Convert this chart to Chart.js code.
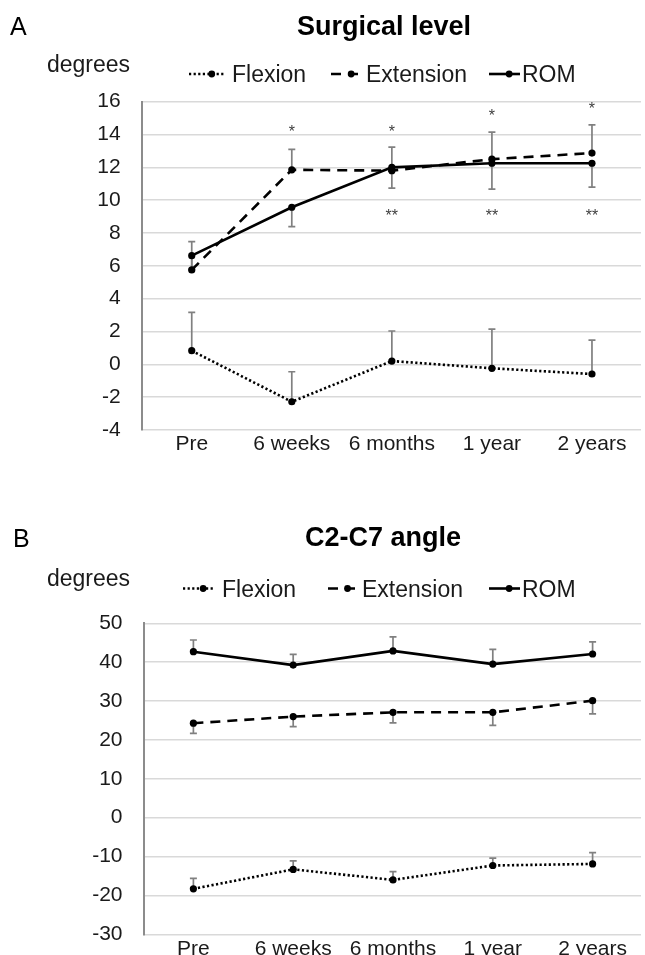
<!DOCTYPE html>
<html><head><meta charset="utf-8">
<script src="https://cdn.jsdelivr.net/npm/chart.js@4.4.1/dist/chart.umd.min.js"></script>
<style>
html,body{margin:0;padding:0;background:#fff;overflow:hidden;width:645px;height:955px;}
#cA{position:absolute;left:0;top:0;}
#cB{position:absolute;left:0;top:480px;}
</style></head><body>
<canvas id="cA" width="645" height="480"></canvas>
<canvas id="cB" width="645" height="475"></canvas>
<script>
// ---------- DATA ----------
const categories = ['Pre', '6 weeks', '6 months', '1 year', '2 years'];
const seriesNames = ['Flexion', 'Extension', 'ROM'];

// Panel A: Surgical level
const surgYTicks = [-4, -2, 0, 2, 4, 6, 8, 10, 12, 14, 16];
const surgFlexion = [0.83, -2.28, 0.2, -0.24, -0.59];
const surgFlexionErrUp = [2.34, 1.83, 1.83, 2.39, 2.07];
const surgExtension = [5.75, 11.85, 11.8, 12.5, 12.87];
const surgExtensionErrUp = [1.73, 1.25, 1.43, 1.65, 1.72];
const surgROM = [6.62, 9.57, 12.0, 12.25, 12.25];
const surgROMErrDown = [0.85, 1.18, 1.27, 1.58, 1.46];
const surgSigAbove = ['', '*', '*', '*', '*'];
const surgSigAboveAt = [null, 14.4, 14.4, 15.4, 15.8];
const surgSigBelow = ['', '', '**', '**', '**'];
const surgSigBelowAt = [null, null, 9.3, 9.3, 9.3];

// Panel B: C2-C7 angle
const c2c7YTicks = [-30, -20, -10, 0, 10, 20, 30, 40, 50];
const c2c7Flexion = [-18.3, -13.3, -16.0, -12.3, -11.9];
const c2c7FlexionErrUp = [2.7, 2.2, 2.1, 1.9, 2.9];
const c2c7Extension = [24.3, 26.0, 27.1, 27.1, 30.1];
const c2c7ExtensionErrDown = [2.6, 2.6, 2.7, 3.35, 3.4];
const c2c7ROM = [42.7, 39.25, 42.9, 39.5, 42.1];
const c2c7ROMErrUp = [3.0, 2.75, 3.6, 3.8, 3.1];

// ---------- STYLE ----------
const FONT = "'Liberation Sans', Arial, Helvetica, sans-serif";
const DASHES = { Flexion: [2.2, 2.4], Extension: [10, 7], ROM: [] };

function pts(vals) { return vals.map((v, i) => ({ x: i, y: v })); }

function ds(name, vals) {
  return {
    label: name,
    data: pts(vals),
    borderColor: '#000',
    backgroundColor: '#000',
    borderWidth: 2.6,
    borderDash: DASHES[name],
    pointRadius: 3.6,
    pointBorderWidth: 0,
    pointBackgroundColor: '#000',
    tension: 0
  };
}

function drawText(ctx, txt, x, y, font, align) {
  ctx.font = font;
  ctx.textAlign = align || 'left';
  ctx.textBaseline = 'alphabetic';
  ctx.fillText(txt, x, y);
}

function makePanel(cfg) {
  return {
    id: 'panel' + cfg.letter,
    beforeDatasetsDraw(chart) {
      const ctx = chart.ctx, xs = chart.scales.x, ys = chart.scales.y;
      ctx.save();
      ctx.strokeStyle = '#808080';
      ctx.lineWidth = 1.7;
      ctx.setLineDash([]);
      cfg.errors.forEach(e => {
        e.values.forEach((v, i) => {
          const x = xs.getPixelForValue(i);
          const y0 = ys.getPixelForValue(v);
          const ends = [];
          if (e.up) ends.push(ys.getPixelForValue(v + e.up[i]));
          if (e.down) ends.push(ys.getPixelForValue(v - e.down[i]));
          ends.forEach(y1 => {
            ctx.beginPath();
            ctx.moveTo(x, y0); ctx.lineTo(x, y1);
            ctx.moveTo(x - 3.5, y1); ctx.lineTo(x + 3.5, y1);
            ctx.stroke();
          });
        });
      });
      ctx.restore();
    },
    afterDraw(chart) {
      const ctx = chart.ctx, xs = chart.scales.x, ys = chart.scales.y;
      ctx.save();
      ctx.fillStyle = '#000';
      drawText(ctx, cfg.letter, cfg.letterX, cfg.letterY, '25px ' + FONT, 'left');
      drawText(ctx, cfg.title, cfg.titleX, cfg.titleY, 'bold 27px ' + FONT, 'center');
      ctx.fillStyle = '#1a1a1a';
      drawText(ctx, 'degrees', cfg.unitX, cfg.unitY, '23px ' + FONT, 'left');
      // legend
      chart.data.datasets.forEach((d, k) => {
        const it = cfg.legend[k];
        ctx.save();
        ctx.strokeStyle = '#000';
        ctx.lineWidth = 2.6;
        ctx.setLineDash(d.borderDash || []);
        ctx.beginPath();
        ctx.moveTo(it.x0, cfg.legendLineY);
        ctx.lineTo(it.x1, cfg.legendLineY);
        ctx.stroke();
        ctx.setLineDash([]);
        ctx.fillStyle = '#000';
        ctx.beginPath();
        ctx.arc(it.x0 + (it.x1 - it.x0) * 0.65, cfg.legendLineY, 3.4, 0, Math.PI * 2);
        ctx.fill();
        ctx.restore();
        ctx.fillStyle = '#1a1a1a';
        drawText(ctx, d.label, it.tx, cfg.legendTextY, '23px ' + FONT, 'left');
      });
      // significance marks
      ctx.fillStyle = '#404040';
      (cfg.sig || []).forEach(s => {
        s.labels.forEach((lab, i) => {
          if (!lab) return;
          const x = xs.getPixelForValue(i);
          const y = ys.getPixelForValue(s.at[i]);
          drawText(ctx, lab, x, y + 9, '16px ' + FONT, 'center');
        });
      });
      ctx.restore();
    }
  };
}

function makeChart(canvasId, cfg) {
  const yt = cfg.yTicks;
  return new Chart(document.getElementById(canvasId), {
    type: 'line',
    data: {
      datasets: [
        ds(seriesNames[0], cfg.flex),
        ds(seriesNames[1], cfg.ext),
        ds(seriesNames[2], cfg.rom)
      ]
    },
    options: {
      responsive: false,
      animation: false,
      events: [],
      layout: { padding: { top: cfg.padTop, left: 0, right: 0, bottom: 0 } },
      plugins: { legend: { display: false }, title: { display: false }, tooltip: { enabled: false } },
      scales: {
        x: {
          type: 'linear',
          min: -0.5,
          max: cfg.xMax,
          afterBuildTicks: s => { s.ticks = categories.map((c, i) => ({ value: i })); },
          afterFit: s => { s.height = cfg.xAxisH; s.paddingLeft = 0; s.paddingRight = 0; },
          grid: { display: false, drawTicks: false },
          border: { display: false },
          ticks: {
            autoSkip: false, maxRotation: 0, minRotation: 0,
            padding: cfg.xPad,
            color: '#1a1a1a',
            font: { family: FONT, size: 21 },
            callback: v => categories[v]
          }
        },
        y: {
          min: yt[0],
          max: yt[yt.length - 1],
          afterBuildTicks: s => { s.ticks = yt.map(v => ({ value: v })); },
          afterFit: s => { s.width = cfg.yAxisW; s.paddingTop = 0; s.paddingBottom = 0; },
          grid: { color: '#d9d9d9', lineWidth: 1.6, drawTicks: false },
          border: { display: true, color: '#8c8c8c', width: 2 },
          ticks: {
            padding: 21,
            color: '#1a1a1a',
            font: { family: FONT, size: 21 }
          }
        }
      }
    },
    plugins: [makePanel(cfg)]
  });
}

makeChart('cA', {
  letter: 'A', letterX: 10, letterY: 35,
  title: 'Surgical level', titleX: 384, titleY: 35,
  unitX: 47, unitY: 72,
  legendLineY: 74, legendTextY: 81.5,
  legend: [{ x0: 189, x1: 224, tx: 232 }, { x0: 331, x1: 362, tx: 366 }, { x0: 489, x1: 520, tx: 522 }],
  yTicks: surgYTicks,
  flex: surgFlexion, ext: surgExtension, rom: surgROM,
  errors: [
    { values: surgFlexion, up: surgFlexionErrUp },
    { values: surgExtension, up: surgExtensionErrUp },
    { values: surgROM, down: surgROMErrDown }
  ],
  sig: [{ labels: surgSigAbove, at: surgSigAboveAt }, { labels: surgSigBelow, at: surgSigBelowAt }],
  padTop: 101.7, xAxisH: 50, xPad: 2, yAxisW: 141.7, xMax: 4.49
});

makeChart('cB', {
  letter: 'B', letterX: 13, letterY: 67,
  title: 'C2-C7 angle', titleX: 383, titleY: 66,
  unitX: 47, unitY: 106,
  legendLineY: 108.5, legendTextY: 116.7,
  legend: [{ x0: 183, x1: 214, tx: 222 }, { x0: 328, x1: 358, tx: 362 }, { x0: 489, x1: 520, tx: 522 }],
  yTicks: c2c7YTicks,
  flex: c2c7Flexion, ext: c2c7Extension, rom: c2c7ROM,
  errors: [
    { values: c2c7Flexion, up: c2c7FlexionErrUp },
    { values: c2c7Extension, down: c2c7ExtensionErrDown },
    { values: c2c7ROM, up: c2c7ROMErrUp }
  ],
  sig: [],
  padTop: 143.3, xAxisH: 20.7, xPad: 2, yAxisW: 143.5, xMax: 4.485
});
</script>
</body></html>
